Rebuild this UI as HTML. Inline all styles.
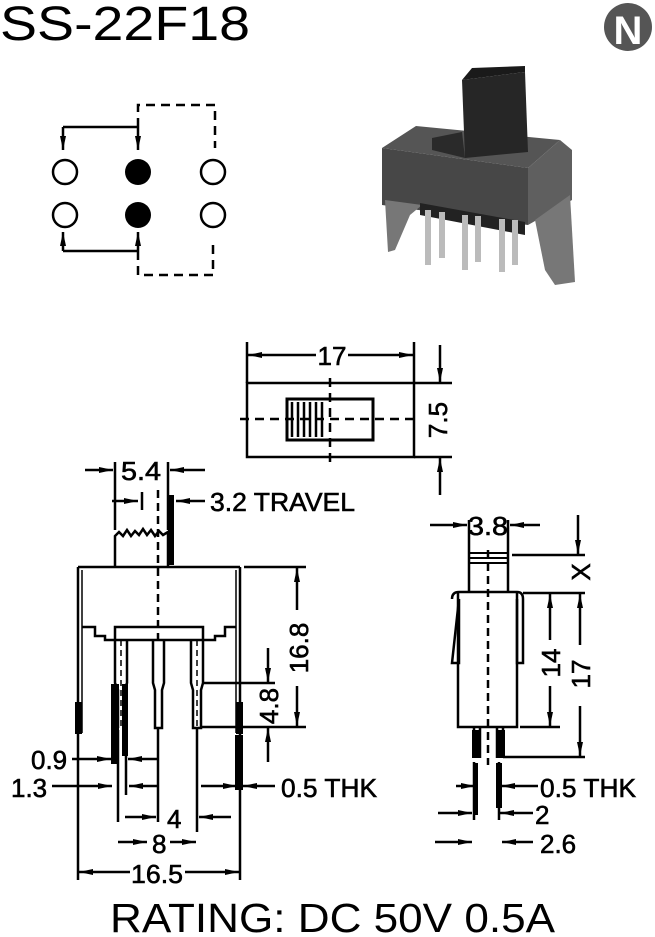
<!DOCTYPE html>
<html><head><meta charset="utf-8"><style>
html,body{margin:0;padding:0;background:#fff}
svg{display:block}
text{font-family:"Liberation Sans",Arial,sans-serif;fill:#000}
.d{font-size:26px;stroke:#000;stroke-width:0.6}
</style></head><body>
<svg width="655" height="937" viewBox="0 0 655 937" xmlns="http://www.w3.org/2000/svg">
<defs>
<marker id="a" viewBox="0 0 14 6" refX="14" refY="3" markerWidth="14" markerHeight="6" markerUnits="userSpaceOnUse" orient="auto-start-reverse"><path d="M0,0 L14,3 L0,6 z" fill="#000"/></marker>
</defs>
<text x="0" y="40" font-size="48" textLength="250" lengthAdjust="spacingAndGlyphs">SS-22F18</text>
<circle cx="628" cy="27" r="24" fill="#555"/>
<text x="628" y="44" font-size="40" font-weight="bold" text-anchor="middle" style="fill:#fff" font-family="Liberation Serif">N</text>

<g stroke="#000" stroke-width="2.5" fill="none">
<circle cx="65" cy="172" r="12"/><circle cx="213" cy="172" r="12"/>
<circle cx="65" cy="215" r="12"/><circle cx="213" cy="215" r="12"/>
<path d="M63,127 H138"/><path d="M63,127 V150" marker-end="url(#a)"/><path d="M138,127 V150" marker-end="url(#a)"/>
<path d="M63,251 H138"/><path d="M63,251 V232" marker-end="url(#a)"/><path d="M138,251 V232" marker-end="url(#a)"/>
<path d="M138,127 V105 H215 V148" stroke-dasharray="9,6"/>
<path d="M138,251 V275 H213 V240" stroke-dasharray="9,6"/>
</g>
<circle cx="138" cy="172" r="13" fill="#000"/><circle cx="138" cy="215" r="13" fill="#000"/>

<g>
<path d="M382,148 L416,126 L560,140 L528,168 Z" fill="#555"/>
<path d="M382,148 L528,168 L528,225 L382,205 Z" fill="#474747"/>
<path d="M528,168 L560,140 L572,150 L572,200 L528,225 Z" fill="#5f5f5f"/>
<path d="M462,80 L525,72 L528,152 L465,158 Z" fill="#262626"/>
<path d="M462,80 L472,68 L525,66 L525,72 Z" fill="#1a1a1a"/>
<path d="M432,138 L462,132 L465,158 L432,150 Z" fill="#2a2a2a"/>
<path d="M385,200 L422,205 L410,215 L395,250 L388,252 Z" fill="#777"/>
<path d="M535,220 L570,195 L575,282 L555,285 L545,270 Z" fill="#777"/>
<path d="M420,203 L525,222 L525,235 L420,215 Z" fill="#222"/>
<g stroke="#bbb" stroke-width="6"><path d="M428,210 V265"/><path d="M442,212 V258"/><path d="M465,215 V270"/><path d="M478,216 V262"/><path d="M502,219 V272"/><path d="M515,220 V265"/></g>
</g>

<g stroke="#000" stroke-width="2.5" fill="none">
<rect x="247" y="383" width="167" height="74"/>
<rect x="287" y="399" width="86" height="41" stroke-width="3"/>
<path d="M292,402 V437 M298,402 V437 M304,402 V437 M310,402 V437 M316,402 V437 M322,402 V437" stroke-width="2.5"/>
<path d="M240,419 H420" stroke-dasharray="9,6"/>
<path d="M330,378 V462" stroke-dasharray="9,6"/>
<path d="M247,342 V383 M414,342 V383"/>
<path d="M414,383 H452 M414,457 H452"/>
<path d="M316,355 H248" marker-end="url(#a)"/><path d="M348,355 H413" marker-end="url(#a)"/>
<path d="M440,345 V382" marker-end="url(#a)"/><path d="M440,495 V458" marker-end="url(#a)"/>
</g>
<text x="332" y="365" class="d" text-anchor="middle">17</text>
<text transform="translate(447,420) rotate(-90)" class="d" text-anchor="middle">7.5</text>

<g stroke="#000" stroke-width="2.5" fill="none">
<path d="M78,567 H240"/><path d="M244,567 H306"/>
<path d="M78,567 V733 M240,567 V733"/>
<path d="M82,570 V733 M236,570 V733" stroke-width="1.5"/>
<path d="M82,627 H95 V636 H105 V640 H215 V636 H225 V627 H236"/>
<path d="M115,640 V627 H203 V640"/>
<path d="M115,567 V536 L119,532 L123,536 L127,530 L131,536 L135,531 L139,535 L143,529 L147,535 L151,530 L155,536 L159,531 L163,535 L168,532 V567"/>
<path d="M158,490 V640" stroke-dasharray="8,5"/>
<path d="M115,462 V530 M168,462 V530"/>
<path d="M85,470 H113" marker-end="url(#a)"/><path d="M205,470 H170" marker-end="url(#a)"/>
<path d="M112,501 H138" marker-end="url(#a)"/><path d="M142,492 V510"/>
<path d="M205,501 H176" marker-end="url(#a)"/>
<path d="M115,640 V683 L118,690 V728 M127,640 V683 L124,690 V728"/>
<path d="M153,640 V683 L155,690 V728 H162 V690 L164,683 V640"/>
<path d="M191,640 V683 L193,690 V728 H201 V690 L203,683 V640"/>
<path d="M121,640 V728 M197,640 V728" stroke-dasharray="6,4" stroke-width="1.5"/>
<path d="M203,683 H275 M200,727 H306"/>
<path d="M297,610 V568" marker-end="url(#a)"/><path d="M297,686 V726" marker-end="url(#a)"/>
<path d="M268,648 V682" marker-end="url(#a)"/><path d="M268,762 V728" marker-end="url(#a)"/>
<path d="M118,730 V822 M126,730 V795" />
<path d="M158,728 V822 M197,728 V832"/>
<path d="M78,733 V880 M240,733 V880"/>
<path d="M72,759 H111" marker-end="url(#a)"/><path d="M157,759 H128" marker-end="url(#a)"/>
<path d="M52,786 H112" marker-end="url(#a)"/><path d="M157,786 H129" marker-end="url(#a)"/>
<path d="M201,786 H237" marker-end="url(#a)"/><path d="M275,786 H243" marker-end="url(#a)"/>
<path d="M125,817 H156" marker-end="url(#a)"/><path d="M231,817 H199" marker-end="url(#a)"/>
<path d="M118,842 H147" marker-end="url(#a)"/><path d="M170,842 H196" marker-end="url(#a)"/>
<path d="M130,872 H79" marker-end="url(#a)"/><path d="M185,872 H239" marker-end="url(#a)"/>
</g>
<g fill="#000">
<rect x="75" y="702" width="7" height="32"/><rect x="236" y="702" width="7" height="32"/>
<rect x="111" y="684" width="8" height="80"/><rect x="122" y="684" width="6" height="72"/>
<rect x="235" y="735" width="8" height="55"/>
<rect x="168" y="495" width="6" height="70"/>
</g>
<text x="121" y="480" class="d" textLength="40" lengthAdjust="spacingAndGlyphs">5.4</text>
<text x="210" y="511" class="d" textLength="145" lengthAdjust="spacingAndGlyphs">3.2 TRAVEL</text>
<text transform="translate(308,648) rotate(-90)" class="d" text-anchor="middle">16.8</text>
<text transform="translate(278,706) rotate(-90)" class="d" text-anchor="middle">4.8</text>
<text x="31" y="769" class="d">0.9</text>
<text x="11" y="797" class="d">1.3</text>
<text x="281" y="797" class="d" textLength="96" lengthAdjust="spacingAndGlyphs">0.5 THK</text>
<text x="167" y="828" class="d">4</text>
<text x="152" y="853" class="d">8</text>
<text x="131" y="883" class="d" textLength="52" lengthAdjust="spacingAndGlyphs">16.5</text>

<g stroke="#000" stroke-width="2.5" fill="none">
<path d="M469,592 V520 M508,592 V520"/>
<path d="M469,553 H508 M469,558 H508 M469,563 H508" stroke-width="2"/>
<path d="M452,599 Q452,592 459,592 H517 Q523,592 523,599 V663 H517 V599 M459,599 V663 H452 Z"/>
<path d="M458,592 V727 H517 V592"/>
<path d="M488,550 V765" stroke-dasharray="8,5"/>
<path d="M474,727 V758 M503,727 V758 M480,727 V758 M497,727 V758"/>
<path d="M512,555 H585 M523,593 H585 M520,727 H560 M503,757 H585"/>
<path d="M430,525 H467" marker-end="url(#a)"/><path d="M540,525 H510" marker-end="url(#a)"/>
<path d="M578,515 V554" marker-end="url(#a)"/>
<path d="M550,640 V594" marker-end="url(#a)"/><path d="M550,686 V726" marker-end="url(#a)"/>
<path d="M580,645 V594" marker-end="url(#a)"/><path d="M580,706 V756" marker-end="url(#a)"/>
<path d="M474,762 V820 M499,762 V820"/>
<path d="M456,786 H475" marker-end="url(#a)"/><path d="M538,786 H501" marker-end="url(#a)"/>
<path d="M438,813 H472" marker-end="url(#a)"/><path d="M533,813 H500" marker-end="url(#a)"/>
<path d="M435,842 H472" marker-end="url(#a)"/><path d="M533,842 H502" marker-end="url(#a)"/>
</g>
<g fill="#000">
<rect x="472" y="730" width="8" height="28"/><rect x="497" y="730" width="8" height="28"/>
<rect x="473" y="763" width="5" height="52"/><rect x="496" y="763" width="6" height="45"/>
</g>
<text x="468" y="535" class="d" textLength="40" lengthAdjust="spacingAndGlyphs">3.8</text>
<text transform="translate(590,572) rotate(-90)" class="d" text-anchor="middle">X</text>
<text transform="translate(560,663) rotate(-90)" class="d" text-anchor="middle">14</text>
<text transform="translate(590,674) rotate(-90)" class="d" text-anchor="middle">17</text>
<text x="540" y="797" class="d" textLength="96" lengthAdjust="spacingAndGlyphs">0.5 THK</text>
<text x="535" y="824" class="d">2</text>
<text x="540" y="853" class="d">2.6</text>

<text x="110" y="932" font-size="41" textLength="445" lengthAdjust="spacingAndGlyphs">RATING: DC 50V 0.5A</text>
</svg>
</body></html>
